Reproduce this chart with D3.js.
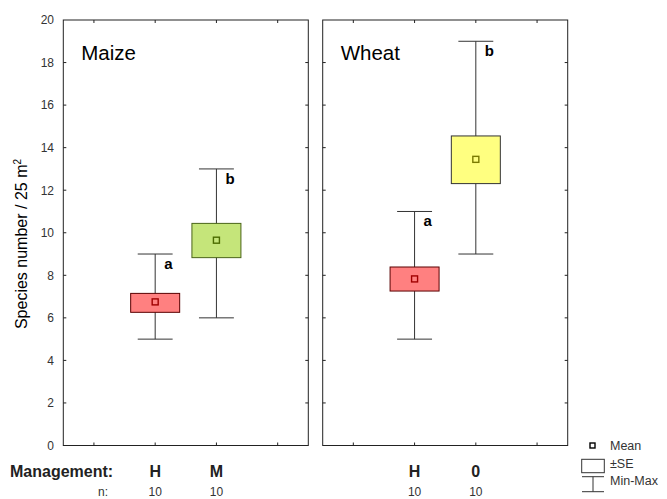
<!DOCTYPE html>
<html>
<head>
<meta charset="utf-8">
<script src="https://cdn.jsdelivr.net/npm/d3@7"></script>
<style>
	body { margin: 0; background: #fff; }
	text { font-family: "Liberation Sans", Arial, sans-serif; }
</style>
</head>
<body>
<svg id="chart" width="667" height="499"></svg>
<script>
// data
var panels = ["Maize", "Wheat"];
var groups = ["H", "M", "H", "0"];
var groupPanel = [0, 0, 1, 1];
var groupSlot = [2, 3, 2, 3];
var means = [6.75, 9.65, 7.83, 13.45];
var seLow = [6.26, 8.83, 7.26, 12.31];
var seHigh = [7.15, 10.44, 8.39, 14.55];
var mins = [5, 6, 5, 9];
var maxs = [9, 13, 11, 19];
var letters = ["a", "b", "a", "b"];
var counts = [10, 10, 10, 10];
var yTicks = [0, 2, 4, 6, 8, 10, 12, 14, 16, 18, 20];
var slotTicks = [1, 2, 3, 4];

// styles per group
var boxFill = ["#ff8080", "#c5e57a", "#ff8080", "#ffff80"];
var boxStroke = ["#5a0000", "#4a6418", "#5a0000", "#333333"];
var meanStroke = ["#a00000", "#4b6b00", "#a00000", "#7a7a00"];

var svg = d3.select("#chart");
var frameTop = 20, frameBottom = 445.5;
var panelLeft = [63.3, 322.7];
var panelWidth = 245;

var y = d3.scaleLinear().domain([0, 20]).range([frameBottom, frameTop]);
var xs = panelLeft.map(function(left) {
	return d3.scaleLinear().domain([0.5, 4.5]).range([left, left + panelWidth]);
});

var tickLen = 3;
var ink = "#222";

panels.forEach(function(name, p) {
	var x = xs[p];
	var g = svg.append("g").attr("class", "panel");
	var x0 = x.range()[0], x1 = x.range()[1];

	g.append("rect")
		.attr("x", x0).attr("y", frameTop)
		.attr("width", x1 - x0).attr("height", frameBottom - frameTop)
		.attr("fill", "none").attr("stroke", ink).attr("stroke-width", 1);

	// inward ticks on all four sides
	g.selectAll(".ytick").data(yTicks.slice(1, -1)).enter().append("path")
		.attr("d", function(d) {
			return "M" + x0 + "," + y(d) + "h" + tickLen + "M" + x1 + "," + y(d) + "h" + (-tickLen);
		})
		.attr("stroke", ink);
	g.selectAll(".xtick").data(slotTicks).enter().append("path")
		.attr("d", function(d) {
			return "M" + x(d) + "," + frameTop + "v" + tickLen + "M" + x(d) + "," + frameBottom + "v" + (-tickLen);
		})
		.attr("stroke", ink);

	g.append("text")
		.attr("x", x0 + 18).attr("y", 59.5)
		.attr("font-size", "20.5px").attr("fill", "#000")
		.text(name);
});

// y tick labels only on the first panel
svg.append("g").selectAll("text").data(yTicks).enter().append("text")
	.attr("x", 54).attr("y", function(d) { return y(d) + 4.3; })
	.attr("text-anchor", "end").attr("font-size", "12px").attr("fill", "#333")
	.text(function(d) { return d; });

svg.append("text")
	.attr("transform", "translate(27," + 244 + ") rotate(-90)")
	.attr("text-anchor", "middle").attr("font-size", "16px").attr("fill", "#000")
	.html("Species number / 25 m<tspan font-size='10px' dy='-6'>2</tspan>");

// boxes
var boxes = svg.append("g").attr("class", "boxes");
groups.forEach(function(label, i) {
	var x = xs[groupPanel[i]];
	var cx = x(groupSlot[i]);
	var halfBox = (x(0.8) - x(0)) / 2;
	var halfCap = (x(0.57) - x(0)) / 2;
	var g = boxes.append("g");

	g.append("path")
		.attr("d", "M" + cx + "," + y(maxs[i]) + "V" + y(mins[i])
			+ "M" + (cx - halfCap) + "," + y(maxs[i]) + "H" + (cx + halfCap)
			+ "M" + (cx - halfCap) + "," + y(mins[i]) + "H" + (cx + halfCap))
		.attr("stroke", "#333").attr("fill", "none");

	g.append("rect")
		.attr("x", cx - halfBox).attr("y", y(seHigh[i]))
		.attr("width", 2 * halfBox).attr("height", y(seLow[i]) - y(seHigh[i]))
		.attr("fill", boxFill[i]).attr("stroke", boxStroke[i]);

	g.append("rect")
		.attr("x", cx - 3).attr("y", y(means[i]) - 3)
		.attr("width", 6).attr("height", 6)
		.attr("fill", "none").attr("stroke", meanStroke[i]).attr("stroke-width", 1.4);

	g.append("text")
		.attr("x", cx + 9).attr("y", y(maxs[i]) + 15)
		.attr("font-size", "15px").attr("font-weight", "bold").attr("fill", "#000")
		.text(letters[i]);

	// category and n labels under the panels
	g.append("text")
		.attr("x", cx).attr("y", 477)
		.attr("text-anchor", "middle").attr("font-size", "16px").attr("font-weight", "bold").attr("fill", "#222")
		.text(label);
	g.append("text")
		.attr("x", cx).attr("y", 496)
		.attr("text-anchor", "middle").attr("font-size", "12px").attr("fill", "#333")
		.text(counts[i]);
});

svg.append("text")
	.attr("x", 10).attr("y", 477)
	.attr("font-size", "16px").attr("font-weight", "bold").attr("fill", "#222")
	.text("Management:");
svg.append("text")
	.attr("x", 108).attr("y", 496)
	.attr("text-anchor", "end").attr("font-size", "12px").attr("fill", "#333")
	.text("n:");

// legend
var legend = svg.append("g").attr("class", "legend");
legend.append("rect")
	.attr("x", 590).attr("y", 443).attr("width", 5).attr("height", 5)
	.attr("fill", "none").attr("stroke", "#000").attr("stroke-width", 1.4);
legend.append("rect")
	.attr("x", 581.7).attr("y", 459.3).attr("width", 22.6).attr("height", 13.4)
	.attr("fill", "none").attr("stroke", "#333");
legend.append("path")
	.attr("d", "M582,476.7H604M593,476.7V491.7M582,491.7H604")
	.attr("stroke", "#333").attr("fill", "none");
legend.selectAll(".label").data(["Mean", "\u00b1SE", "Min-Max"]).enter().append("text")
	.attr("x", 610).attr("y", function(d, i) { return 450 + i * 17.5; })
	.attr("font-size", "12.5px").attr("fill", "#333")
	.text(function(d) { return d; });
</script>
</body>
</html>
